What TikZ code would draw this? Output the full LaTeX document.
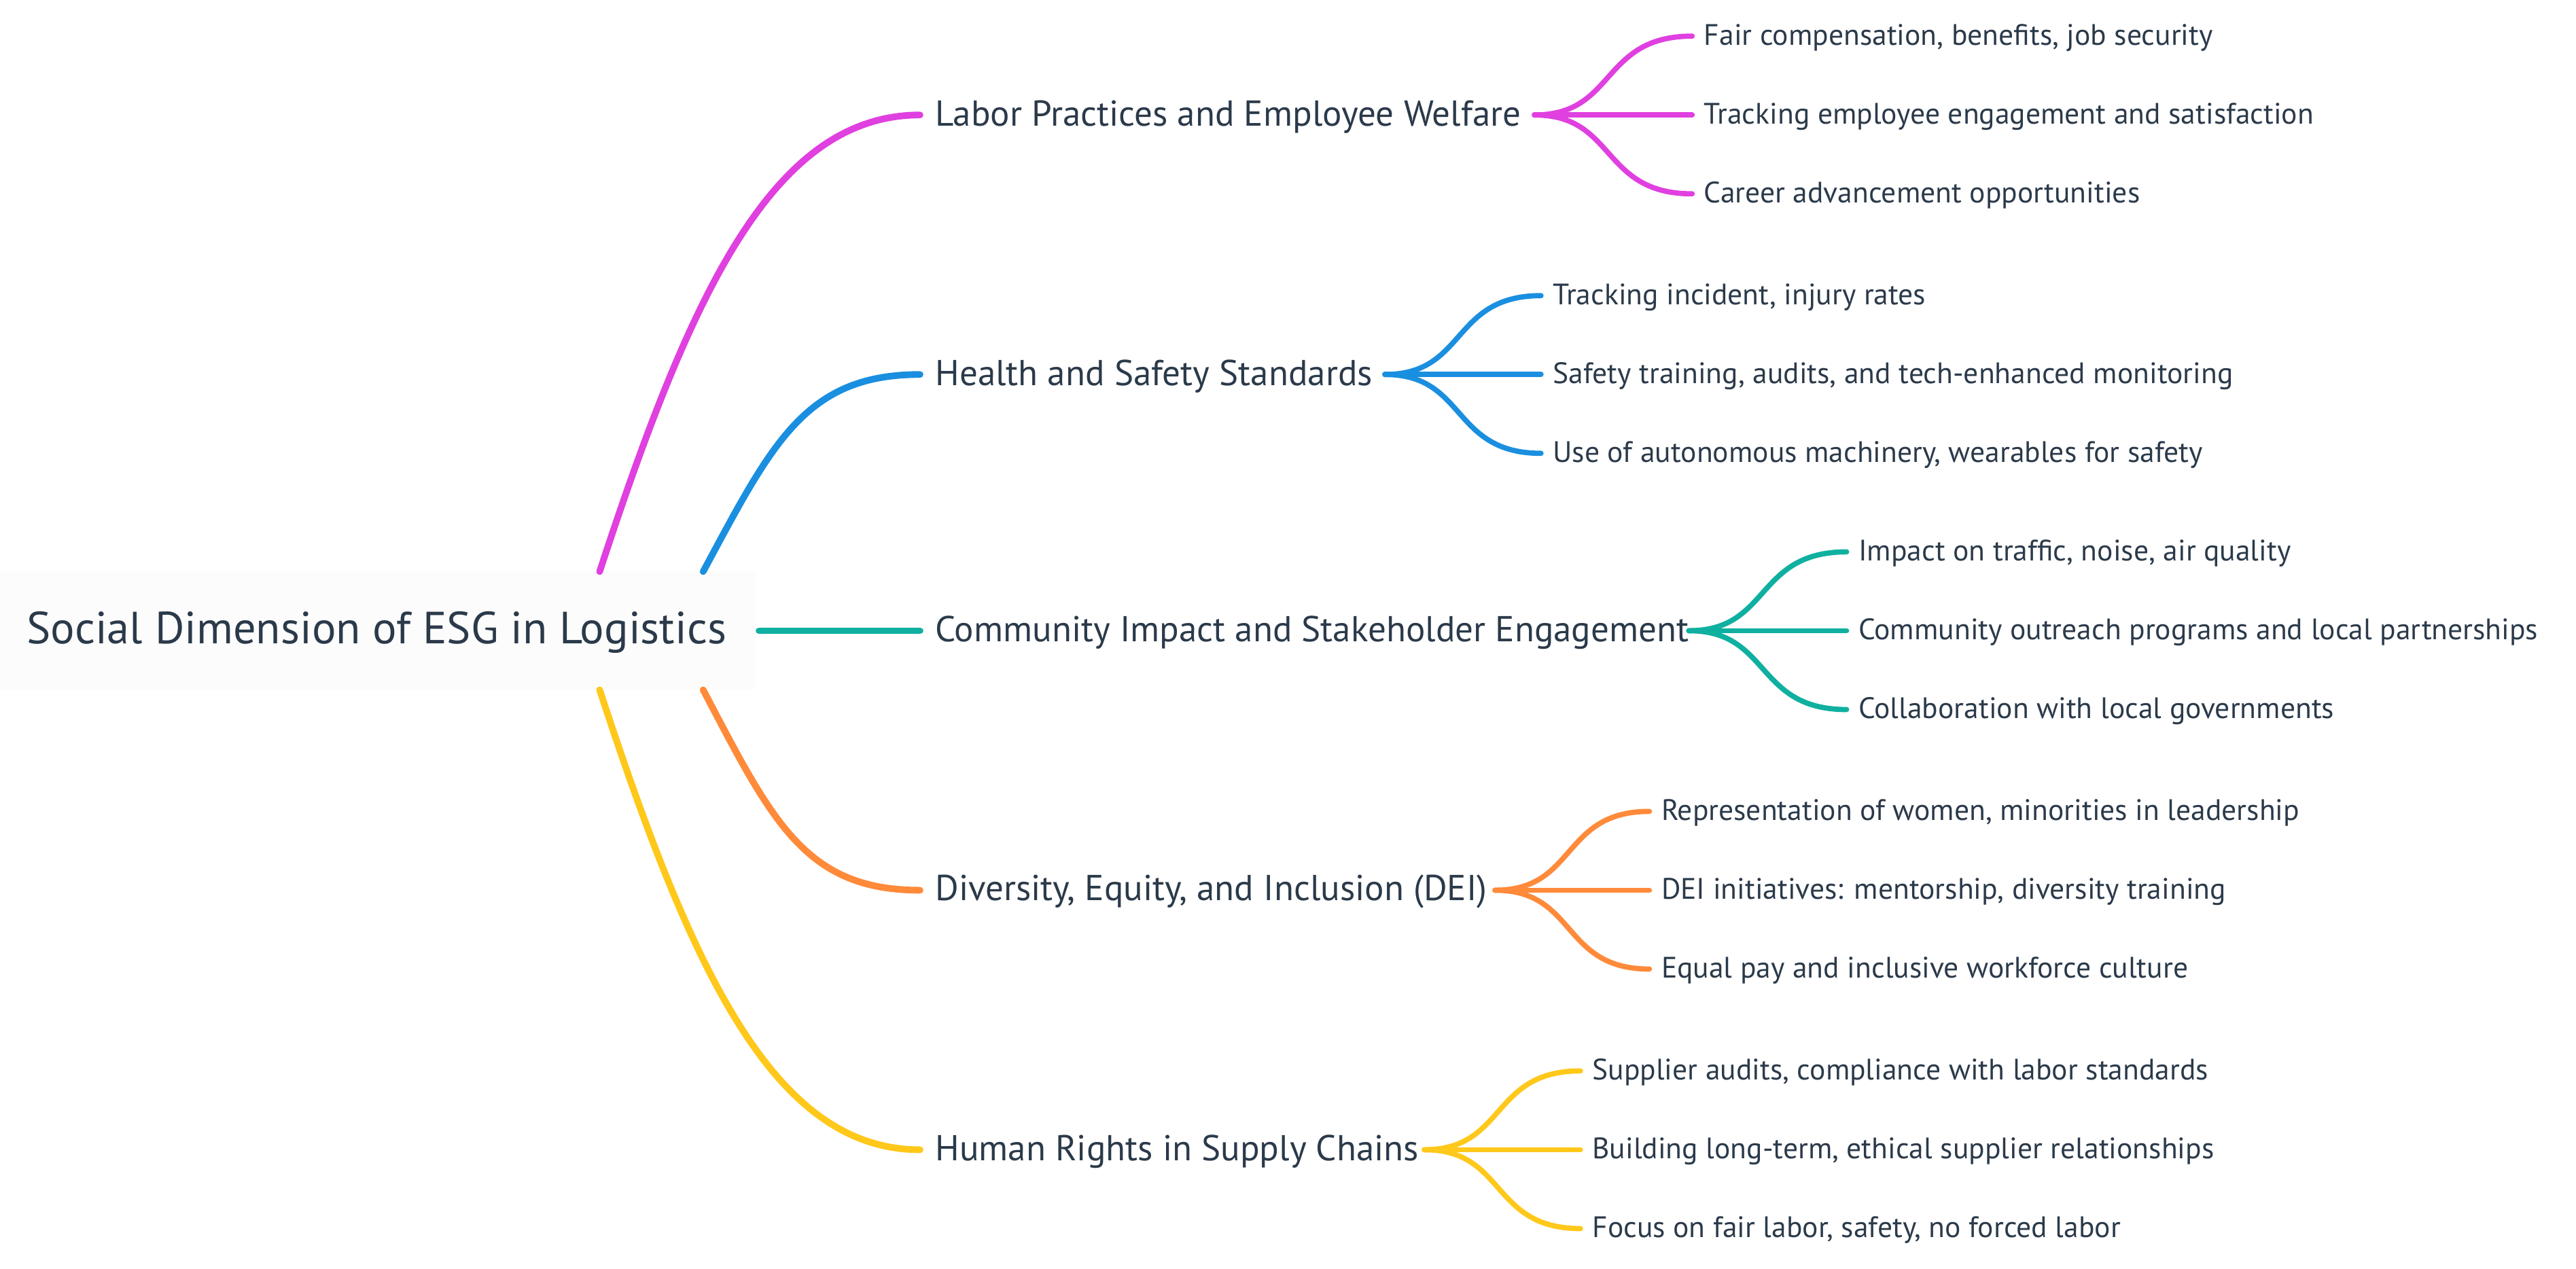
\documentclass[tikz,border=0pt]{standalone}
\usepackage{fontspec}
\setmainfont{PT Sans}
\begin{document}
\begin{tikzpicture}[x=0.024178cm,y=-0.024178cm,
 t0/.style={inner sep=0,anchor=west,text=txt,font=\fontsize{18.9}{22}\selectfont},
 t1/.style={inner sep=0,anchor=west,text=txt,font=\fontsize{15.1}{18}\selectfont},
 t2/.style={inner sep=0,anchor=west,text=txt,font=\fontsize{12.4}{15}\selectfont},
 b1/.style={line width=2.8pt,line cap=round},
 b2/.style={line width=2.2pt,line cap=round}]
\definecolor{txt}{HTML}{2B3A4A}
\definecolor{colM}{HTML}{E040E0}
\definecolor{colB}{HTML}{1A8FE0}
\definecolor{colT}{HTML}{10B0A0}
\definecolor{colO}{HTML}{FF8A3A}
\definecolor{colY}{HTML}{FFC81A}
\useasboundingbox (0,0) rectangle (1568,772.6);
\fill[fill=black!1] (0,348) rectangle (460,420);
\node[t0] (root) at (16,385) {Social Dimension of ESG in Logistics};
\coordinate (sm) at (365,348); \coordinate (sb) at (428,348);
\coordinate (st) at (462,384);
\coordinate (so) at (428,420); \coordinate (sy) at (365,420);
% level 1
\node[t1] (m) at (569,71) {Labor Practices and Employee Welfare};
\node[t1] (b) at (569,229) {Health and Safety Standards};
\node[t1] (t) at (569,385) {Community Impact and Stakeholder Engagement};
\node[t1] (o) at (569,543) {Diversity, Equity, and Inclusion (DEI)};
\node[t1] (y) at (569,701) {Human Rights in Supply Chains};
\draw[b1,colM] (sm) .. controls (420,180) and (470,70) .. (560,70);
\draw[b1,colB] (sb) .. controls (470,270) and (490,228) .. (560,228);
\draw[b1,colT] (st) -- (560,384);
\draw[b1,colO] (so) .. controls (470,500) and (490,542) .. (560,542);
\draw[b1,colY] (sy) .. controls (420,588) and (470,700) .. (560,700);
% children
\newcommand\kids[8]{%
 \coordinate (#1e) at (#2,#3);
 \node[t2] (#1a) at (#4,#3-47) {#6};
 \node[t2] (#1b) at (#4,#3+1) {#7};
 \node[t2] (#1c) at (#4,#3+49) {#8};
 \draw[b2,#5] (#1e) -- (#4-7,#3);
 \draw[b2,#5] (#1e) .. controls (#2+50,#3) and (#2+40,#3-48) .. (#4-7,#3-48);
 \draw[b2,#5] (#1e) .. controls (#2+50,#3) and (#2+40,#3+48) .. (#4-7,#3+48);}
\kids{m}{934}{70}{1037}{colM}{Fair compensation, benefits, job security}{Tracking employee engagement and satisfaction}{Career advancement opportunities}
\kids{b}{843}{228}{945}{colB}{Tracking incident, injury rates}{Safety training, audits, and tech-enhanced monitoring}{Use of autonomous machinery, wearables for safety}
\kids{t}{1028}{384}{1131}{colT}{Impact on traffic, noise, air quality}{Community outreach programs and local partnerships}{Collaboration with local governments}
\kids{o}{910}{542}{1011}{colO}{Representation of women, minorities in leadership}{DEI initiatives: mentorship, diversity training}{Equal pay and inclusive workforce culture}
\kids{y}{867}{700}{969}{colY}{Supplier audits, compliance with labor standards}{Building long-term, ethical supplier relationships}{Focus on fair labor, safety, no forced labor}
\draw[b2,colM] ([xshift=8]m.east|-me) -- (me);
\draw[b2,colB] ([xshift=8]b.east|-be) -- (be);
\draw[b2,colT] ([xshift=8]t.east|-te) -- (te);
\draw[b2,colO] ([xshift=8]o.east|-oe) -- (oe);
\draw[b2,colY] ([xshift=8]y.east|-ye) -- (ye);
\end{tikzpicture}
\end{document}
